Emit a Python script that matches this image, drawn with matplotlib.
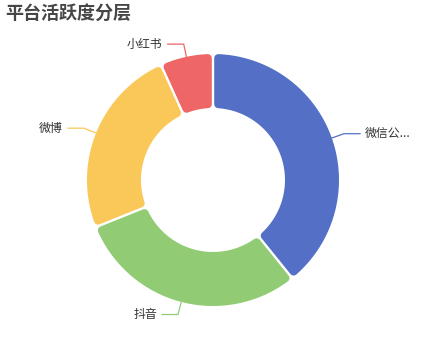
import matplotlib.pyplot as plt
import numpy as np
from matplotlib.patches import Polygon

plt.rcParams['font.family'] = ['Noto Sans CJK SC', 'DejaVu Sans']

# data
platforms = ['微信公众号', '抖音', '微博', '小红书']
labels = ['微信公...', '抖音', '微博', '小红书']
values = [58, 44, 36, 10]
colors = ['#5470c6', '#91cc75', '#fac858', '#ee6666']

W, H = 426, 360
fig = plt.figure(figsize=(W / 100, H / 100), dpi=100)
ax = fig.add_axes([0, 0, 1, 1])

cx, cy = W / 2, H / 2
r_out = 126
r_in = 72
gap = 2.4      # white gap between slices (px)
corner = 4     # corner rounding (px)


def rounded_wedge(t1, t2, color):
    # inset ring sector, then stroked with round joins to get rounded corners
    s = gap / 2 + corner
    ro, ri = r_out - corner, r_in + corner
    a_o = np.arcsin(s / ro)
    a_i = np.arcsin(s / ri)
    outer = np.linspace(t2 - a_o, t1 + a_o, 60)
    inner = np.linspace(t1 + a_i, t2 - a_i, 40)
    pts = np.concatenate([
        np.c_[cx + ro * np.cos(outer), cy + ro * np.sin(outer)],
        np.c_[cx + ri * np.cos(inner), cy + ri * np.sin(inner)],
    ])
    ax.add_patch(Polygon(pts, closed=True, facecolor=color, edgecolor=color,
                         linewidth=2 * corner * 0.72, joinstyle='round'))


total = sum(values)
start = np.pi / 2
for v, lab, col in zip(values, labels, colors):
    sweep = 2 * np.pi * v / total
    t1, t2 = start - sweep, start   # clockwise
    rounded_wedge(t1, t2, col)
    start = t1

    mid = (t1 + t2) / 2
    x0, y0 = cx + r_out * np.cos(mid), cy + r_out * np.sin(mid)
    x1, y1 = cx + (r_out + 13) * np.cos(mid), cy + (r_out + 13) * np.sin(mid)
    side = 1 if np.cos(mid) >= 0 else -1
    x2 = x1 + side * 16
    ax.plot([x0, x1, x2], [y0, y1, y1], color=col, lw=0.9)
    ax.text(x2 + side * 5, y1, lab, ha='left' if side > 0 else 'right',
            va='center', fontsize=8.6, color='#333333')

ax.set_xlim(0, W)
ax.set_ylim(0, H)
ax.set_aspect('equal')
ax.axis('off')

fig.text(5 / W, 1 - 13 / H, '平台活跃度分层', fontsize=13, fontweight='bold',
         color='#464646', ha='left', va='center')

fig.savefig('out.png', dpi=100)
